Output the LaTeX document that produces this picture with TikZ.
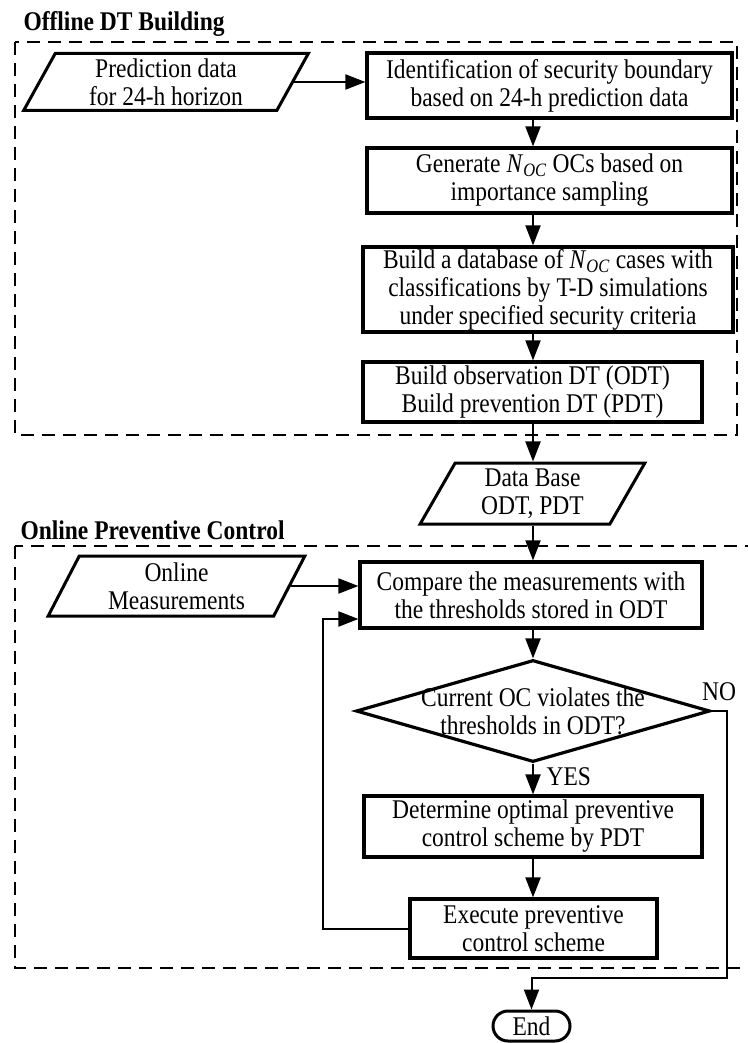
\documentclass[tikz,border=0pt]{standalone}
\usepackage{fontspec}
\setmainfont{Liberation Serif}[FakeStretch=0.87]
\usepackage{tikz}
\usetikzlibrary{shapes.geometric, arrows.meta}

\begin{document}
\begin{tikzpicture}[x=1pt, y=-1pt,
		% Rectangular process step
		process/.style={
			draw,
			line width=3.2pt,
			align=center,
			inner sep=0pt
		},
		% Slanted data block
		data/.style={
			draw,
			trapezium,
			trapezium left angle=65,
			trapezium right angle=115,
			trapezium stretches=true,
			line width=3pt,
			align=center,
			inner sep=0pt
		},
		% Decision block
		decision/.style={
			draw,
			diamond,
			line width=3.2pt,
			inner sep=0pt
		},
		% Start / end block
		terminal/.style={
			draw,
			rectangle,
			rounded corners=15pt,
			line width=3pt,
			inner sep=0pt
		},
		% Dashed frame around a stage
		group frame/.style={
			line width=2.8pt,
			dash pattern=on 13pt off 8pt
		},
		% Stage title
		group title/.style={
			anchor=west,
			font=\fontsize{27}{28}\selectfont\bfseries
		},
		% Connector with filled head
		flow arrow/.style={
			line width=2pt,
			-{Triangle[length=20pt, width=15pt]}
		}
		]
		
		\useasboundingbox (0,0) rectangle (747,1043);
		\tikzset{every node/.append style={font=\fontsize{27}{28}\selectfont}}
		
		% Define coordinates
		\coordinate (col) at (533, 0);
		\coordinate (loop) at (323, 619);
		\coordinate (bend) at (727, 978);
		
		% --- Offline stage ---
		\node[group title] (offtitle) at (20, 24) {Offline DT Building};
		\draw[group frame] (15,42) rectangle (737,435);
		
		\node[data, minimum width=285pt, minimum height=57pt] (predict) at (166, 82)
		{Prediction data\\for 24-h horizon};
		\node[process, minimum width=365pt, minimum height=65pt] (identify) at (549.5, 85.5)
		{Identification of security boundary\\based on 24-h prediction data};
		\node[process, minimum width=365pt, minimum height=65pt] (sample) at (549.5, 180.5)
		{Generate \textit{N}\textsubscript{\textit{OC}} OCs based on\\importance sampling};
		\node[process, minimum width=370pt, minimum height=85pt] (database) at (548, 289.5)
		{Build a database of \textit{N}\textsubscript{\textit{OC}} cases with\\classifications by T-D simulations\\under specified security criteria};
		\node[process, minimum width=339pt, minimum height=60pt] (buildtree) at (532.5, 392)
		{Build observation DT (ODT)\\Build prevention DT (PDT)};
		
		% --- Stored trees ---
		\node[data, minimum width=225pt, minimum height=61pt] (treedata) at (532.5, 493.5)
		{Data Base\\ODT, PDT};
		
		% --- Online stage ---
		\node[group title] (ontitle) at (17, 530) {Online Preventive Control};
		\draw[group frame] (15,546) rectangle (752,968);
		
		\node[data, minimum width=257pt, minimum height=60pt] (measure) at (176.5, 586)
		{Online\\Measurements};
		\node[process, minimum width=342pt, minimum height=66pt] (compare) at (531, 595)
		{Compare the measurements with\\the thresholds stored in ODT};
		\node[decision, minimum width=354pt, minimum height=102pt,
		label={[align=center]center:{Current OC violates the\\thresholds in ODT?}}] (check) at (533, 711) {};
		\node[process, minimum width=338pt, minimum height=61pt] (determine) at (533, 826.5)
		{Determine optimal preventive\\control scheme by PDT};
		\node[process, minimum width=247pt, minimum height=59pt] (execute) at (533.5, 928.5)
		{Execute preventive\\control scheme};
		\node[terminal, minimum width=77pt, minimum height=30pt] (finish) at (531.5, 1026) {End};
		
		% --- Branch labels ---
		\node (nolabel) at (719, 692) {NO};
		\node[anchor=west] (yeslabel) at (543, 777) {YES};
		
		% --- Connectors ---
		\draw[flow arrow] (predict.east) -- (predict.east -| identify.west);
		\draw[flow arrow] (identify.south -| col) -- (sample.north -| col);
		\draw[flow arrow] (sample.south -| col) -- (database.north -| col);
		\draw[flow arrow] (database.south -| col) -- (buildtree.north -| col);
		\draw[flow arrow] (buildtree.south -| col) -- (treedata.north -| col);
		\draw[flow arrow] (treedata.south -| col) -- (compare.north -| col);
		\draw[flow arrow] (measure.east) -- (measure.east -| compare.west);
		\draw[flow arrow] (compare.south -| col) -- (check.north -| col);
		\draw[flow arrow] (check.south -| col) -- (determine.north -| col);
		\draw[flow arrow] (determine.south -| col) -- (execute.north -| col);
		\draw[flow arrow] (execute.west) -| (loop) -- (loop -| compare.west);
		\draw[flow arrow] (check.east) -| (bend) -| (finish.north);
		
	\end{tikzpicture}
\end{document}
